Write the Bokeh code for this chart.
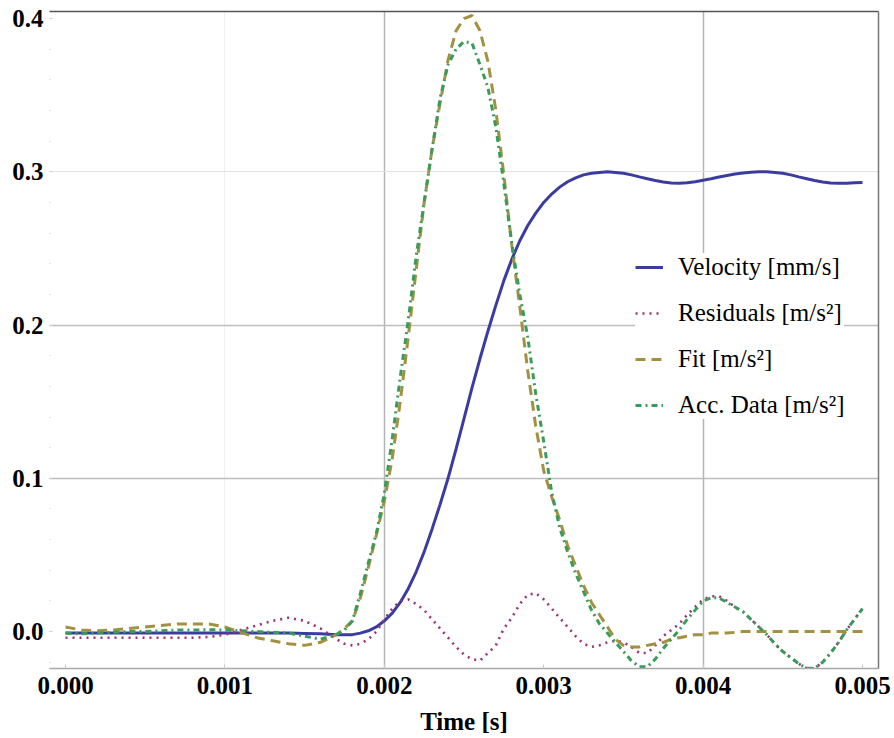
from bokeh.plotting import figure
from bokeh.models import (Range1d, LinearAxis, FixedTicker, Grid, Legend, LegendItem,
                          NumeralTickFormatter, ColumnDataSource)
from bokeh.embed import file_html
from bokeh.resources import INLINE

# ---------------- data ----------------
time_s = [
    0.0, 0.0001, 0.0002, 0.0003, 0.0004, 0.0005, 0.0006, 0.0007, 0.0008, 0.0009,
    0.001, 0.0011, 0.0012, 0.0013, 0.0014, 0.0015, 0.0016, 0.0017,
    0.00175, 0.0018, 0.00185, 0.0019, 0.00195, 0.002, 0.00205, 0.0021, 0.00215, 0.0022,
    0.00225, 0.0023, 0.00235, 0.0024, 0.00245, 0.0025, 0.00255, 0.0026, 0.00265, 0.0027,
    0.00275, 0.0028, 0.00285, 0.0029, 0.00295, 0.003, 0.00305, 0.0031, 0.00315, 0.0032,
    0.00325, 0.0033, 0.00335, 0.0034, 0.00345, 0.0035, 0.00355, 0.0036, 0.00365, 0.0037,
    0.00375, 0.0038, 0.00385, 0.0039, 0.00395, 0.004, 0.00405, 0.0041, 0.00415, 0.0042,
    0.00425, 0.0043, 0.00435, 0.0044, 0.00445, 0.0045, 0.00455, 0.0046, 0.00465, 0.0047,
    0.00475, 0.0048, 0.00485, 0.0049, 0.00495, 0.005,
]

velocity = [
    -0.001, -0.001, -0.001, -0.001, -0.001, -0.001, -0.001, -0.001, -0.001, -0.001,
    -0.001, -0.001, -0.001, -0.001, -0.001, -0.0012, -0.0015, -0.002,
    -0.002, -0.002, -0.001, 0.0005, 0.003, 0.007, 0.012, 0.019, 0.028, 0.039,
    0.052, 0.067, 0.083, 0.100, 0.119, 0.139, 0.159, 0.178, 0.196, 0.213,
    0.229, 0.243, 0.255, 0.265, 0.273, 0.280, 0.2855, 0.290, 0.2935, 0.296,
    0.298, 0.299, 0.2996, 0.300, 0.2996, 0.299, 0.298, 0.2967, 0.2955, 0.2943,
    0.2933, 0.2927, 0.2925, 0.2928, 0.2935, 0.2945, 0.2955, 0.2966, 0.2976, 0.2985,
    0.2992, 0.2997, 0.300, 0.300, 0.2996, 0.299, 0.298, 0.2967, 0.2955, 0.2943,
    0.2933, 0.2927, 0.2925, 0.2926, 0.2929, 0.293,
]

residuals = [
    -0.004, -0.004, -0.004, -0.004, -0.004, -0.004, -0.004, -0.004, -0.004, -0.0035,
    -0.002, 0.001, 0.004, 0.007, 0.009, 0.007, 0.002, -0.005,
    -0.008, -0.009, -0.008, -0.005, 0.000, 0.008, 0.015, 0.020, 0.021, 0.018,
    0.014, 0.008, 0.002, -0.004, -0.010, -0.015, -0.018, -0.019, -0.014, -0.009,
    0.002, 0.009, 0.018, 0.024, 0.025, 0.021, 0.015, 0.009, 0.003, -0.003,
    -0.008, -0.010, -0.009, -0.007, -0.006, -0.007, -0.010, -0.014, -0.014, -0.009,
    -0.003, 0.001, 0.005, 0.011, 0.016, 0.021, 0.023, 0.023, 0.020, 0.016,
    0.013, 0.008, 0.003, -0.002, -0.008, -0.013, -0.017, -0.021, -0.024, -0.024,
    -0.020, -0.014, -0.007, 0.001, 0.008, 0.015,
]

fit = [
    0.003, 0.001, 0.0005, 0.001, 0.002, 0.003, 0.004, 0.005, 0.005, 0.005,
    0.003, -0.0005, -0.004, -0.006, -0.008, -0.009, -0.007, -0.002,
    0.002, 0.007, 0.022, 0.042, 0.063, 0.085, 0.113, 0.150, 0.192, 0.236,
    0.280, 0.315, 0.345, 0.373, 0.392, 0.400, 0.402, 0.392, 0.372, 0.340,
    0.298, 0.252, 0.212, 0.170, 0.134, 0.105, 0.088, 0.073, 0.056, 0.043,
    0.030, 0.019, 0.011, 0.003, -0.005, -0.009, -0.010, -0.010, -0.009, -0.008,
    -0.007, -0.005, -0.004, -0.003, -0.002, -0.002, -0.001, -0.001, -0.001, -0.0005,
    0.0, 0.0, 0.0, 0.0, 0.0, 0.0, 0.0, 0.0, 0.0, 0.0,
    0.0, 0.0, 0.0, 0.0, 0.0, 0.0,
]

acc_data = [
    -0.001, -0.0015, -0.001, -0.0005, 0.0, 0.0, 0.0005, 0.001, 0.001, 0.0012,
    0.001, 0.0005, 0.0, -0.0005, -0.001, -0.003, -0.005, -0.002,
    0.001, 0.007, 0.025, 0.045, 0.064, 0.090, 0.126, 0.166, 0.203, 0.245,
    0.280, 0.315, 0.348, 0.370, 0.380, 0.385, 0.384, 0.370, 0.355, 0.329,
    0.292, 0.253, 0.220, 0.192, 0.155, 0.124, 0.091, 0.068, 0.052, 0.038,
    0.026, 0.014, 0.005, -0.001, -0.007, -0.013, -0.019, -0.023, -0.023, -0.018,
    -0.011, -0.005, 0.001, 0.008, 0.014, 0.020, 0.022, 0.022, 0.019, 0.016,
    0.013, 0.008, 0.003, -0.002, -0.008, -0.013, -0.017, -0.021, -0.024, -0.024,
    -0.020, -0.014, -0.007, 0.001, 0.008, 0.015,
]

x_ticks = [0.0, 0.001, 0.002, 0.003, 0.004, 0.005]
y_ticks = [0.0, 0.1, 0.2, 0.3, 0.4]

series_labels = ["Velocity [mm/s]", "Residuals [m/s\u00b2]", "Fit [m/s\u00b2]", "Acc. Data [m/s\u00b2]"]

# ---------------- figure ----------------
SERIF = "Liberation Serif"

p = figure(width=894, height=738, output_backend="svg", toolbar_location=None,
           x_range=Range1d(-0.0001004, 0.0051003), y_range=Range1d(-0.0241, 0.4046),
           min_border_left=49, min_border_top=11, min_border_right=16, min_border_bottom=70)
p.outline_line_color = None
p.background_fill_color = "white"
p.border_fill_color = "white"
p.xgrid.visible = False
p.ygrid.visible = False

# grid lines
p.add_layout(Grid(dimension=0, ticker=FixedTicker(ticks=[0.001]), grid_line_color="#efefef", grid_line_width=1))
p.add_layout(Grid(dimension=0, ticker=FixedTicker(ticks=[0.002, 0.004]), grid_line_color="#b4b4b4", grid_line_width=1.5))
p.add_layout(Grid(dimension=1, ticker=FixedTicker(ticks=[0.1, 0.2]), grid_line_color="#bdbdbd", grid_line_width=1.5))
p.add_layout(Grid(dimension=1, ticker=FixedTicker(ticks=[0.3]), grid_line_color="#e2e2e2", grid_line_width=1.2))

# axes
xa = p.xaxis[0]
xa.ticker = FixedTicker(ticks=x_ticks)
xa.formatter = NumeralTickFormatter(format="0.000")
xa.axis_label = "Time [s]"
xa.axis_label_text_font = SERIF
xa.axis_label_text_font_style = "bold"
xa.axis_label_text_font_size = "25px"
xa.axis_label_text_color = "black"
xa.axis_label_standoff = 11
xa.major_label_text_font = SERIF
xa.major_label_text_font_style = "bold"
xa.major_label_text_font_size = "25px"
xa.major_label_text_color = "black"
xa.major_label_standoff = 8
xa.axis_line_color = "#a8a8a8"
xa.axis_line_width = 1.5
xa.major_tick_in = 4
xa.major_tick_out = 0
xa.major_tick_line_color = "#c8c8c8"
xa.minor_tick_line_color = None

ya = p.yaxis[0]
ya.ticker = FixedTicker(ticks=y_ticks, minor_ticks=[i * 0.02 for i in range(-1, 21)])
ya.formatter = NumeralTickFormatter(format="0.0")
ya.major_label_text_font = SERIF
ya.major_label_text_font_style = "bold"
ya.major_label_text_font_size = "25px"
ya.major_label_text_color = "black"
ya.major_label_standoff = 6
ya.axis_line_color = None
ya.major_tick_in = 3
ya.major_tick_out = 0
ya.major_tick_line_color = "#d0d0d0"
ya.minor_tick_in = 1
ya.minor_tick_out = 0
ya.minor_tick_line_color = "#d0d0d0"

# frame lines: top and right (no ticks, no labels)
top_ax = LinearAxis(ticker=FixedTicker(ticks=[]), major_tick_line_color=None,
                    minor_tick_line_color=None, major_label_standoff=0,
                    axis_line_color="#555555", axis_line_width=1.5)
right_ax = LinearAxis(ticker=FixedTicker(ticks=[]), major_tick_line_color=None,
                      minor_tick_line_color=None, major_label_standoff=0,
                      axis_line_color="#777777", axis_line_width=1.5)
p.add_layout(top_ax, "above")
p.add_layout(right_ax, "right")

src = ColumnDataSource(dict(t=time_s, vel=velocity, res=residuals, fit=fit, acc=acc_data))

r_vel = p.line("t", "vel", source=src, line_color="#3c3c9e", line_width=3)
r_res = p.line("t", "res", source=src, line_color="#9b3274", line_width=2.6, line_dash="2 5")
r_fit = p.line("t", "fit", source=src, line_color="#a39142", line_width=3, line_dash="10 6")
r_acc = p.line("t", "acc", source=src, line_color="#3a9c5a", line_width=3, line_dash="6 4 2 4")

legend = Legend(items=[LegendItem(label=series_labels[0], renderers=[r_vel]),
                       LegendItem(label=series_labels[1], renderers=[r_res]),
                       LegendItem(label=series_labels[2], renderers=[r_fit]),
                       LegendItem(label=series_labels[3], renderers=[r_acc])],
                location=(586, 249), background_fill_color="white", background_fill_alpha=1.0,
                border_line_color=None, padding=12, spacing=18, margin=0,
                glyph_width=28, glyph_height=24, label_height=24, label_standoff=15,
                label_text_font=SERIF, label_text_font_size="25px", label_text_color="black")
p.add_layout(legend)

open("out.html", "w").write(file_html(p, INLINE))
